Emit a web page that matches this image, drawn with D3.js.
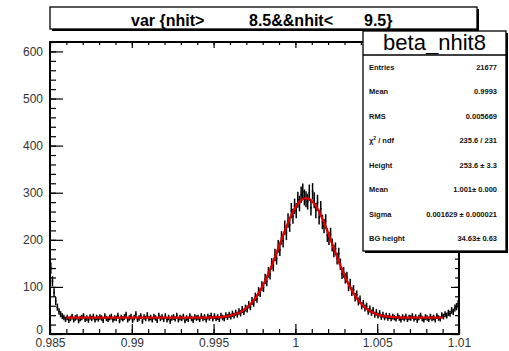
<!DOCTYPE html>
<html>
<head>
<meta charset="utf-8">
<script src="https://cdn.jsdelivr.net/npm/d3@7/dist/d3.min.js"></script>
<style>
  body { margin: 0; background: #fff; }
  svg text { font-family: "Liberation Sans", Arial, Helvetica, sans-serif; }
</style>
</head>
<body>
<svg id="chart" width="509" height="351"></svg>
<script>
// Histogram of beta for nhit = 9: 250 bins over [0.985, 1.01]
const xRange = [0.985, 1.01];
const yMax = 620;
const binCounts = [
  140, 112, 88, 70, 57, 48, 42, 38, 35,
  31, 35, 29, 33, 37, 30, 34, 36, 28, 33, 35,
  38, 31, 34, 29, 36, 33, 37, 30, 35, 32,
  36, 34, 29, 38, 33, 31, 35, 37, 30, 34,
  33, 39, 28, 35, 32, 36, 41, 30, 34, 37,
  29, 35, 42, 31, 34, 38, 27, 36, 33, 40,
  32, 35, 30, 37, 34, 29, 39, 33, 36, 31,
  38, 30, 35, 27, 34, 36, 32, 39, 30, 35,
  33, 37, 28, 34, 31, 38, 33, 29, 36, 34,
  35, 31, 38, 33, 36, 30, 37, 34, 39, 32,
  38, 33, 36, 31, 39, 35, 33, 40, 36, 41,
  37, 43, 39, 45, 41, 48, 44, 52, 47, 55,
  53, 62, 58, 70, 66, 79, 75, 90, 88, 102,
  99, 117, 112, 131, 127, 149, 145, 168, 160, 186,
  179, 204, 198, 226, 214, 241, 232, 262, 250, 271,
  262, 285, 277, 296, 302, 290, 286, 281, 300, 268,
  303, 284, 262, 279, 248, 266, 238, 229, 239, 210,
  203, 211, 189, 176, 181, 160, 170, 148, 128, 131,
  118, 121, 101, 107, 90, 94, 78, 83, 69, 73,
  60, 64, 55, 59, 48, 53, 45, 50, 41, 46,
  39, 44, 36, 41, 35, 39, 34, 38, 33, 37,
  35, 32, 38, 34, 30, 36, 33, 37, 31, 35,
  34, 38, 32, 36, 29, 35, 39, 33, 30, 36,
  34, 31, 37, 33, 35, 30, 38, 34, 32, 40,
  37, 42, 39, 45, 43, 50, 47, 55, 58, 64
];

// Axis ticks
const xMajorTicks = [0.985, 0.99, 0.995, 1, 1.005, 1.01];
const xTickLabels = ["0.985", "0.99", "0.995", "1", "1.005", "1.01"];
const yMajorTicks = [0, 100, 200, 300, 400, 500, 600];
const yTickLabels = ["0", "100", "200", "300", "400", "500", "600"];

// Gaussian + flat background fit
const fitRange = [0.986, 1.009];
const fitHeight = 253.6;
const fitMean = 1.00065;
const fitSigma = 0.001629;
const fitBg = 34.63;

// Title and statistics box
const titleParts = ["var {nhit>", "8.5&&nhit<", "9.5}"];
const statsName = "beta_nhit8";
const statLabels = ["Entries", "Mean", "RMS", "chi2", "Height", "Mean", "Sigma", "BG height"];
const statValues = ["21677", "0.9993", "0.005669", "235.6 / 231", "253.6 \u00b1 3.3",
                    "1.001\u00b1 0.000", "0.001629 \u00b1 0.000021", "34.63\u00b1 0.63"];

const svg = d3.select("#chart");
const frame = { left: 50, right: 459, top: 42, bottom: 334 };

const x = d3.scaleLinear().domain(xRange).range([frame.left, frame.right]);
const y = d3.scaleLinear().domain([0, yMax]).range([frame.bottom, frame.top]);

const binWidth = (xRange[1] - xRange[0]) / binCounts.length;
const bins = binCounts.map((c, i) => ({
  lo: xRange[0] + i * binWidth,
  hi: xRange[0] + (i + 1) * binWidth,
  c: c
}));

// minor tick positions
const xMinor = d3.range(0, 26).map(i => xRange[0] + i * 0.001);
const yMinor = d3.range(0, 32).map(i => i * 20);

const plot = svg.append("g");

// histogram with error bars
const hist = plot.append("g").attr("stroke", "#000").attr("stroke-width", 1.5).attr("fill", "none");
hist.selectAll("line.h").data(bins).join("line").attr("class", "h")
  .attr("x1", d => x(d.lo)).attr("x2", d => x(d.hi))
  .attr("y1", d => y(d.c)).attr("y2", d => y(d.c));
hist.selectAll("line.e").data(bins).join("line").attr("class", "e")
  .attr("x1", d => x((d.lo + d.hi) / 2)).attr("x2", d => x((d.lo + d.hi) / 2))
  .attr("y1", d => y(Math.max(0, d.c - Math.sqrt(d.c)))).attr("y2", d => y(d.c + Math.sqrt(d.c)));

// fit curve
const fitFn = v => fitHeight * Math.exp(-0.5 * Math.pow((v - fitMean) / fitSigma, 2)) + fitBg;
const fitXs = d3.range(0, 401).map(i => fitRange[0] + (fitRange[1] - fitRange[0]) * i / 400);
plot.append("path")
  .datum(fitXs)
  .attr("fill", "none").attr("stroke", "#e00000").attr("stroke-width", 2.3)
  .attr("d", d3.line().x(v => x(v)).y(v => y(fitFn(v))));

// axes
const axisStyle = g => {
  g.select(".domain").remove();
  g.selectAll(".tick line").attr("stroke", "#000").attr("stroke-width", 1.2);
  g.selectAll(".tick text").attr("fill", "#333").attr("font-size", 12)
    .attr("font-family", "Liberation Sans, Arial, sans-serif");
};

svg.append("g").attr("transform", `translate(0,${frame.bottom})`)
  .call(d3.axisBottom(x).tickValues(xMinor).tickSize(-5).tickFormat(""))
  .call(axisStyle);
svg.append("g").attr("transform", `translate(0,${frame.bottom})`)
  .call(d3.axisBottom(x).tickValues(xMajorTicks).tickSize(-10).tickPadding(4)
    .tickFormat((d, i) => xTickLabels[i]))
  .call(axisStyle);
svg.append("g").attr("transform", `translate(0,${frame.top})`)
  .call(d3.axisTop(x).tickValues(xMinor).tickSize(-3).tickFormat(""))
  .call(axisStyle);
svg.append("g").attr("transform", `translate(0,${frame.top})`)
  .call(d3.axisTop(x).tickValues(xMajorTicks).tickSize(-6).tickFormat(""))
  .call(axisStyle);

svg.append("g").attr("transform", `translate(${frame.left},0)`)
  .call(d3.axisLeft(y).tickValues(yMinor).tickSize(-6).tickFormat(""))
  .call(axisStyle);
const yAxisG = svg.append("g").attr("transform", `translate(${frame.left},0)`)
  .call(d3.axisLeft(y).tickValues(yMajorTicks).tickSize(-13).tickPadding(7)
    .tickFormat((d, i) => yTickLabels[i]))
  .call(axisStyle);
// lift the zero label a little so it clears the first x label
yAxisG.selectAll(".tick text").filter(d => d === 0).attr("dy", "-0.05em");
svg.append("g").attr("transform", `translate(${frame.right},0)`)
  .call(d3.axisRight(y).tickValues(yMinor).tickSize(-4).tickFormat(""))
  .call(axisStyle);
svg.append("g").attr("transform", `translate(${frame.right},0)`)
  .call(d3.axisRight(y).tickValues(yMajorTicks).tickSize(-8).tickFormat(""))
  .call(axisStyle);

// frame
svg.append("rect")
  .attr("x", frame.left).attr("y", frame.top)
  .attr("width", frame.right - frame.left).attr("height", frame.bottom - frame.top)
  .attr("fill", "none").attr("stroke", "#000").attr("stroke-width", 2);

// title box
const tb = { x: 50, y: 7, w: 427, h: 22 };
svg.append("rect").attr("x", tb.x + 2).attr("y", tb.y + 2).attr("width", tb.w).attr("height", tb.h).attr("fill", "#000");
svg.append("rect").attr("x", tb.x).attr("y", tb.y).attr("width", tb.w).attr("height", tb.h)
  .attr("fill", "#fff").attr("stroke", "#000").attr("stroke-width", 1.3);
const title = svg.append("text").attr("y", 25.5).attr("font-size", 16).attr("font-weight", "bold").attr("fill", "#000");
const titleX = [131, 249, 364];
titleParts.forEach((t, i) => title.append("tspan").attr("x", titleX[i]).text(t));

// statistics box
const sb = { x: 363, y: 31, w: 143, h: 220, head: 24 };
svg.append("rect").attr("x", sb.x + 2).attr("y", sb.y + 2).attr("width", sb.w).attr("height", sb.h).attr("fill", "#000");
svg.append("rect").attr("x", sb.x).attr("y", sb.y).attr("width", sb.w).attr("height", sb.h)
  .attr("fill", "#fff").attr("stroke", "#000").attr("stroke-width", 1.3);
svg.append("line").attr("x1", sb.x).attr("x2", sb.x + sb.w)
  .attr("y1", sb.y + sb.head).attr("y2", sb.y + sb.head).attr("stroke", "#000").attr("stroke-width", 1.3);
svg.append("text").attr("x", sb.x + sb.w / 2).attr("y", sb.y + 19)
  .attr("text-anchor", "middle").attr("font-size", 22).attr("fill", "#000").text(statsName);

const rowH = (sb.h - sb.head) / statLabels.length;
statLabels.forEach((lab, i) => {
  const yy = sb.y + sb.head + rowH * (i + 0.5) + 2.6;
  const t = svg.append("text").attr("x", 369).attr("y", yy).attr("font-size", 7.5)
    .attr("font-weight", "bold").attr("fill", "#111");
  if (lab === "chi2") {
    t.append("tspan").text("\u03c7");
    t.append("tspan").attr("dy", -3).attr("font-size", 5).text("2");
    t.append("tspan").attr("dy", 3).text(" / ndf");
  } else {
    t.text(lab);
  }
  svg.append("text").attr("x", 497).attr("y", yy).attr("text-anchor", "end")
    .attr("font-size", 7.5).attr("font-weight", "bold").attr("fill", "#111").text(statValues[i]);
});
</script>
</body>
</html>
